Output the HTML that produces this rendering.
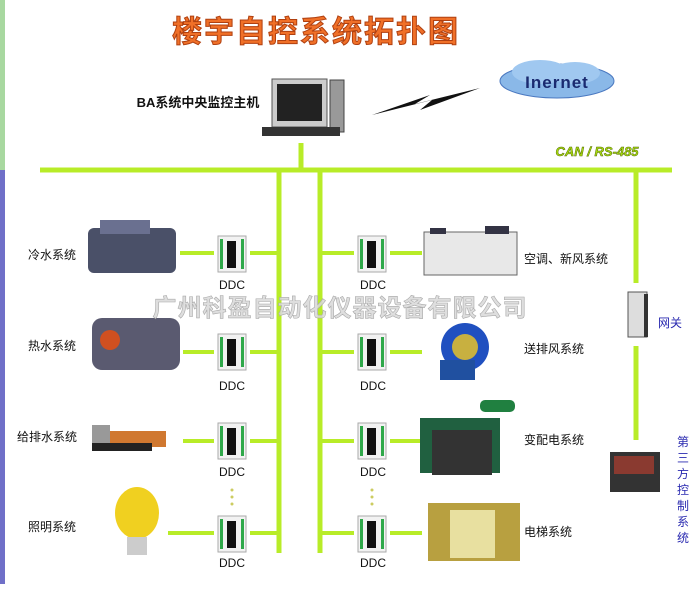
<!DOCTYPE html>
<html><head><meta charset="utf-8"><style>
html,body{margin:0;padding:0;background:#fff;}
body{width:699px;height:584px;overflow:hidden;font-family:"Liberation Sans","Noto Sans CJK SC",sans-serif;}
</style></head><body>
<svg width="699" height="584" viewBox="0 0 699 584" xmlns="http://www.w3.org/2000/svg" font-family="Liberation Sans, Noto Sans CJK SC, sans-serif">
<defs>
<g id="ddc">
<rect x="0" y="0" width="28" height="36" fill="#f2f2f2" stroke="#aaa"/>
<rect x="2" y="3" width="3" height="30" fill="#2fa84a"/>
<rect x="23" y="3" width="3" height="30" fill="#2fa84a"/>
<rect x="9" y="5" width="9" height="27" fill="#111"/>
</g>
</defs>
<rect x="0" y="0" width="5" height="170" fill="#a8d8a0"/>
<rect x="0" y="170" width="5" height="414" fill="#7070c8"/>
<!-- title -->
<text x="316" y="42" text-anchor="middle" font-size="30" font-weight="bold" fill="#f07028" stroke="#b04010" stroke-width="1" font-family="Noto Sans CJK SC, sans-serif" letter-spacing="2">楼宇自控系统拓扑图</text>
<!-- computer -->
<text x="198" y="107" text-anchor="middle" font-size="13" font-weight="bold" fill="#111">BA系统中央监控主机</text>
<rect x="272" y="79" width="55" height="48" fill="#ccc" stroke="#555"/>
<rect x="277" y="84" width="45" height="37" fill="#222"/>
<rect x="330" y="80" width="14" height="52" fill="#999" stroke="#444"/>
<rect x="262" y="127" width="78" height="9" fill="#333"/>
<!-- lightning -->
<polygon points="372,115 430,95 415,104 480,88 420,110 432,100" fill="#111"/>
<!-- cloud -->
<ellipse cx="557" cy="81" rx="57" ry="17" fill="#8ab8e8" stroke="#4a78c0"/>
<ellipse cx="540" cy="72" rx="28" ry="12" fill="#a0c8f0"/>
<ellipse cx="575" cy="73" rx="25" ry="11" fill="#a0c8f0"/>
<text x="557" y="88" text-anchor="middle" font-size="17" font-weight="bold" fill="#1a2a70" letter-spacing="1">Inernet</text>
<!-- CAN -->
<text x="597" y="156" text-anchor="middle" font-size="13" font-weight="bold" fill="#a8dc10" stroke="#556b00" stroke-width="0.5" font-style="italic">CAN / RS-485</text>
<!-- bus -->
<g stroke="#b8ec28" stroke-width="5" fill="none">
<line x1="301" y1="143" x2="301" y2="170"/>
<line x1="40" y1="170" x2="672" y2="170"/>
<line x1="279" y1="170" x2="279" y2="553"/>
<line x1="320" y1="170" x2="320" y2="553"/>
<line x1="636" y1="170" x2="636" y2="283"/>
<line x1="636" y1="346" x2="636" y2="440"/>
</g>
<g stroke="#b8ec28" stroke-width="4">
<line x1="180" y1="253" x2="214" y2="253"/><line x1="250" y1="253" x2="279" y2="253"/>
<line x1="183" y1="352" x2="214" y2="352"/><line x1="250" y1="352" x2="279" y2="352"/>
<line x1="183" y1="441" x2="214" y2="441"/><line x1="250" y1="441" x2="279" y2="441"/>
<line x1="168" y1="533" x2="214" y2="533"/><line x1="250" y1="533" x2="279" y2="533"/>
<line x1="320" y1="253" x2="354" y2="253"/><line x1="390" y1="253" x2="422" y2="253"/>
<line x1="320" y1="352" x2="354" y2="352"/><line x1="390" y1="352" x2="422" y2="352"/>
<line x1="320" y1="441" x2="354" y2="441"/><line x1="390" y1="441" x2="422" y2="441"/>
<line x1="320" y1="533" x2="354" y2="533"/><line x1="390" y1="533" x2="422" y2="533"/>
</g>
<use href="#ddc" x="218" y="236"/><use href="#ddc" x="218" y="334"/><use href="#ddc" x="218" y="423"/><use href="#ddc" x="218" y="516"/>
<use href="#ddc" x="358" y="236"/><use href="#ddc" x="358" y="334"/><use href="#ddc" x="358" y="423"/><use href="#ddc" x="358" y="516"/>
<g font-size="12" fill="#111" text-anchor="middle">
<text x="232" y="289">DDC</text><text x="232" y="390">DDC</text><text x="232" y="476">DDC</text><text x="232" y="567">DDC</text>
<text x="373" y="289">DDC</text><text x="373" y="390">DDC</text><text x="373" y="476">DDC</text><text x="373" y="567">DDC</text>
</g>
<g fill="#cccc60"><circle cx="232" cy="490" r="1.5"/><circle cx="232" cy="497" r="1.5"/><circle cx="232" cy="504" r="1.5"/>
<circle cx="372" cy="490" r="1.5"/><circle cx="372" cy="497" r="1.5"/><circle cx="372" cy="504" r="1.5"/></g>
<!-- left equipment -->
<rect x="88" y="228" width="88" height="45" rx="6" fill="#4a5068"/>
<rect x="100" y="220" width="50" height="14" fill="#6a7090"/>
<rect x="92" y="318" width="88" height="52" rx="10" fill="#5a5a70"/>
<circle cx="110" cy="340" r="10" fill="#d05020"/>
<rect x="96" y="431" width="70" height="16" fill="#d07830"/>
<rect x="92" y="443" width="60" height="8" fill="#222"/>
<rect x="92" y="425" width="18" height="18" fill="#999"/>
<ellipse cx="137" cy="513" rx="22" ry="26" fill="#f0d020"/>
<rect x="127" y="537" width="20" height="18" fill="#ccc"/>
<g font-size="12" fill="#111">
<text x="28" y="259">冷水系统</text><text x="28" y="350">热水系统</text><text x="17" y="441">给排水系统</text><text x="28" y="531">照明系统</text>
</g>
<!-- right equipment -->
<rect x="424" y="232" width="93" height="43" fill="#e8e8e8" stroke="#666"/>
<rect x="430" y="228" width="16" height="6" fill="#334"/><rect x="485" y="226" width="24" height="8" fill="#334"/>
<circle cx="465" cy="347" r="24" fill="#2050c0"/><circle cx="465" cy="347" r="13" fill="#c8b040"/>
<rect x="440" y="360" width="35" height="20" fill="#2050a0"/>
<rect x="420" y="418" width="80" height="55" fill="#206040"/>
<rect x="432" y="430" width="60" height="45" fill="#333"/>
<rect x="480" y="400" width="35" height="12" rx="5" fill="#208040"/>
<rect x="428" y="503" width="92" height="58" fill="#b8a040"/>
<rect x="450" y="510" width="45" height="48" fill="#e8e0a0"/>
<g font-size="12" fill="#111">
<text x="524" y="263">空调、新风系统</text><text x="524" y="353">送排风系统</text><text x="524" y="444">变配电系统</text><text x="524" y="536">电梯系统</text>
</g>
<!-- gateway -->
<rect x="628" y="292" width="19" height="45" fill="#ddd" stroke="#555"/>
<rect x="644" y="294" width="4" height="43" fill="#333"/>
<text x="658" y="327" font-size="12" fill="#2a2ab0">网关</text>
<rect x="610" y="452" width="50" height="40" fill="#333"/>
<rect x="614" y="456" width="40" height="18" fill="#8a3a30"/>
<text font-size="12" fill="#2a2ab0" x="683" y="446" text-anchor="middle">第</text>
<text font-size="12" fill="#2a2ab0" x="683" y="462" text-anchor="middle">三</text>
<text font-size="12" fill="#2a2ab0" x="683" y="478" text-anchor="middle">方</text>
<text font-size="12" fill="#2a2ab0" x="683" y="494" text-anchor="middle">控</text>
<text font-size="12" fill="#2a2ab0" x="683" y="510" text-anchor="middle">制</text>
<text font-size="12" fill="#2a2ab0" x="683" y="526" text-anchor="middle">系</text>
<text font-size="12" fill="#2a2ab0" x="683" y="542" text-anchor="middle">统</text>
<!-- watermark -->
<text x="340" y="316" text-anchor="middle" font-size="24" font-weight="bold" fill="#d8d8d8" fill-opacity="0.85" stroke="#aaa" stroke-width="0.6" letter-spacing="1">广州科盈自动化仪器设备有限公司</text>
</svg>
</body></html>
